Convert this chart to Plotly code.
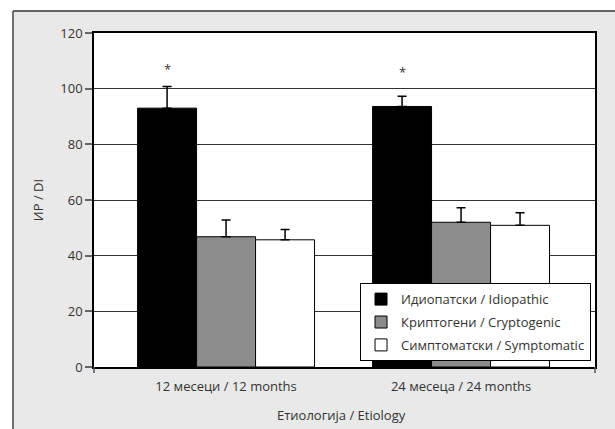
import plotly.graph_objects as go

categories = ["12 месеци / 12 months", "24 месеца / 24 months"]
series_names = ["Идиопатски / Idiopathic", "Криптогени / Cryptogenic", "Симптоматски / Symptomatic"]
idiopathic = [93.0, 93.6]
cryptogenic = [46.8, 52.0]
symptomatic = [45.7, 50.9]
idiopathic_err = [7.8, 3.7]
cryptogenic_err = [6.0, 5.2]
symptomatic_err = [3.7, 4.5]
series_values = [idiopathic, cryptogenic, symptomatic]
series_errors = [idiopathic_err, cryptogenic_err, symptomatic_err]
series_colors = ["#000000", "#8c8c8c", "#ffffff"]
star_y = [107, 106]
y_ticks = [0, 20, 40, 60, 80, 100, 120]

FONT = "Open Sans"
fig = go.Figure()
for k, (name, vals, errs, col) in enumerate(zip(series_names, series_values, series_errors, series_colors)):
    fig.add_trace(go.Bar(
        x=categories, y=vals, name=name, legendgroup=f"g{k}",
        marker=dict(color=col, line=dict(color="#000000", width=1)),
        error_y=dict(type="data", array=errs, arrayminus=[0] * len(errs), symmetric=False,
                     color="#000000", thickness=1.5, width=4.5),
    ))

for i, sy in enumerate(star_y):
    fig.add_annotation(x=i - 0.251, y=sy, text="*", showarrow=False,
                       font=dict(family=FONT, size=13, color="#333333"), xref="x", yref="y")

# outer gray frame (fill, then top and left borders)
FX0, FX1, FY0, FY1 = -0.1617, 1.2, -0.3, 1.066
fig.add_shape(type="rect", xref="paper", yref="paper", x0=FX0, x1=FX1, y0=FY0, y1=FY1,
              fillcolor="#e9e9e9", line=dict(width=0), layer="below")
fig.add_shape(type="line", xref="paper", yref="paper", x0=FX0, x1=FX1, y0=FY1, y1=FY1,
              line=dict(color="#333333", width=1.5), layer="below")
fig.add_shape(type="line", xref="paper", yref="paper", x0=FX0, x1=FX0, y0=FY0, y1=FY1,
              line=dict(color="#444444", width=1.5), layer="below")
fig.add_shape(type="rect", xref="paper", yref="paper", x0=0, x1=1, y0=0, y1=1,
              fillcolor="#ffffff", line=dict(width=0), layer="below")
# end ticks of the category axis
for xp in [0, 1]:
    fig.add_shape(type="line", xref="paper", yref="paper", x0=xp, x1=xp, y0=0, y1=-0.018,
                  line=dict(color="#555555", width=1.5))

fig.add_annotation(text="Етиологија / Etiology", xref="paper", yref="paper", x=0.494, y=-0.144,
                   showarrow=False, yanchor="middle", font=dict(family=FONT, size=13, color="#333333"))

fig.update_layout(
    width=615, height=429,
    margin=dict(l=94, r=20, t=33, b=62),
    paper_bgcolor="#ffffff", plot_bgcolor="#ffffff",
    barmode="group", bargap=0.247, bargroupgap=0,
    font=dict(family=FONT, size=13, color="#333333"),
    showlegend=True,
    legend=dict(x=0.531, y=0.251, xanchor="left", yanchor="top",
                bgcolor="#ffffff", bordercolor="#000000", borderwidth=1,
                font=dict(family=FONT, size=13, color="#333333"),
                tracegroupgap=3),
    xaxis=dict(range=[-0.562, 1.57], showgrid=False, showline=True, linecolor="#000000",
               linewidth=1.5, mirror=True, ticks="outside", ticklen=7, tickcolor="rgba(0,0,0,0)",
               tickfont=dict(family=FONT, size=13, color="#333333")),
    yaxis=dict(range=[0, 120], tickvals=y_ticks, showgrid=True, gridcolor="#333333", gridwidth=1,
               showline=True, linecolor="#000000", linewidth=1.5, mirror=True,
               ticks="outside", ticklen=7, tickcolor="#666666", tickwidth=1.5,
               zeroline=False,
               title=dict(text="ИР / DI", standoff=14, font=dict(family=FONT, size=13, color="#333333")),
               tickfont=dict(family=FONT, size=13, color="#333333")),
)

fig.write_html("out.html", config={"displayModeBar": False},
               post_script="document.body.style.margin='0px';document.body.style.overflow='hidden';"
                           "document.documentElement.style.overflow='hidden';")
